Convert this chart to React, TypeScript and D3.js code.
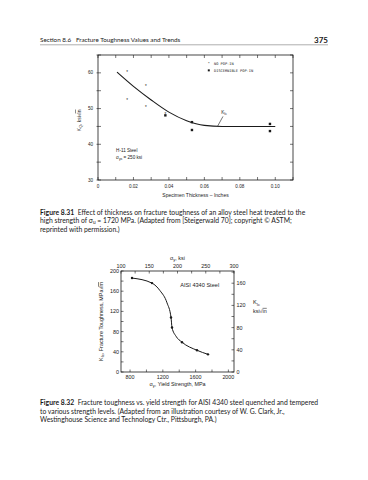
import React from "react";
import * as d3 from "d3";

// ---------- Figure 8.31 data ----------
const thickTickLabels = [0, 0.02, 0.04, 0.06, 0.08, 0.1];
const thickMinorTicks = [0, 0.01, 0.02, 0.03, 0.04, 0.05, 0.06, 0.07, 0.08, 0.09, 0.1, 0.11];
const kqTickLabels = [30, 40, 50, 60];
const kqMinorTicks = [30, 35, 40, 45, 50, 55, 60, 65];
const noPopThick = [0.0164, 0.027, 0.0164, 0.027, 0.038];
const noPopKq = [60.0, 56.3, 52.4, 50.4, 48.4];
const popThick = [0.038, 0.053, 0.053, 0.097, 0.097];
const popKq = [48.1, 46.2, 44.0, 45.7, 43.7];
const fitThick = [0.0107, 0.02, 0.03, 0.04, 0.05, 0.06, 0.07, 0.1];
const fitKq = [60.2, 56.2, 52.4, 49.0, 46.6, 45.3, 45.0, 45.0];

// ---------- Figure 8.32 data ----------
const yieldTickLabels = [800, 1200, 1600, 2000];
const yieldMinorTicks = [800, 1000, 1200, 1400, 1600, 1800, 2000];
const ksiTickLabels = [100, 150, 200, 250, 300];
const ksiMinorTicks = [100, 125, 150, 175, 200, 225, 250, 275, 300];
const kicTickLabels = [0, 40, 80, 120, 160, 200];
const kicMinorTicks = [0, 20, 40, 60, 80, 100, 120, 140, 160, 180, 200];
const kicKsiTickLabels = [0, 40, 80, 120, 160];
const kicKsiMinorTicks = [0, 20, 40, 60, 80, 100, 120, 140, 160, 180];
const steelYield = [824, 1068, 1300, 1312, 1434, 1617, 1751];
const steelKic = [186, 176, 108, 88, 59, 43, 35];
const curveYield = [824, 1068, 1166, 1251, 1300, 1312, 1360, 1434, 1617, 1751];
const curveKic = [186, 176, 161, 137, 108, 88, 71, 59, 43, 35];

const MPA_PER_KSI = 6.895;
const KSI_IN_TO_MPA_M = 1.0988;

const INK = "#1a1a1a";
const BODY_FONT = "Lato, 'Open Sans', sans-serif";
const CHART_FONT = "'Liberation Sans', Arial, sans-serif";

function TopChart() {
  const x = d3.scaleLinear().domain([0, 0.11]).range([98, 293]);
  const y = d3.scaleLinear().domain([30, 65]).range([180, 55]);
  const [x0, x1] = x.range();
  const [yb, yt] = y.range();
  const line = d3
    .line<number>()
    .x((_, i) => x(fitThick[i]))
    .y((d) => y(d))
    .curve(d3.curveMonotoneX);
  const fs = 4.6;
  const mono = "'DejaVu Sans Mono', monospace";
  return (
    <g fontFamily={CHART_FONT} fill={INK}>
      <rect x={x0} y={yt} width={x1 - x0} height={yb - yt} fill="none" stroke={INK} strokeWidth={0.8} />
      {thickMinorTicks.map((t) => (
        <g key={"xt" + t}>
          <line x1={x(t)} x2={x(t)} y1={yb} y2={yb - 3} stroke={INK} strokeWidth={0.6} />
          <line x1={x(t)} x2={x(t)} y1={yt} y2={yt + 3} stroke={INK} strokeWidth={0.6} />
        </g>
      ))}
      {thickTickLabels.map((t) => (
        <text key={"xl" + t} x={x(t)} y={yb + 8} fontSize={fs} textAnchor="middle">
          {t === 0 ? "0" : t.toFixed(2)}
        </text>
      ))}
      {kqMinorTicks.map((t) => (
        <g key={"yt" + t}>
          <line x1={x0 - 1.5} x2={x0 + 3} y1={y(t)} y2={y(t)} stroke={INK} strokeWidth={0.6} />
          <line x1={x1} x2={x1 - 3} y1={y(t)} y2={y(t)} stroke={INK} strokeWidth={0.6} />
        </g>
      ))}
      {kqTickLabels.map((t) => (
        <text key={"yl" + t} x={x0 - 5} y={y(t) + 1.6} fontSize={fs} textAnchor="end">
          {t}
        </text>
      ))}
      <text x={(x0 + x1) / 2} y={yb + 16.5} fontSize={5} textAnchor="middle">
        Specimen Thickness – Inches
      </text>
      <text transform={`translate(${x0 - 17.5},${y(46.7)}) rotate(-90)`} fontSize={5} textAnchor="middle">
        K<tspan fontSize={3.6} dy={1.2}>Q</tspan>
        <tspan dy={-1.2}>, ksi</tspan>
        <tspan>{"\u221a"}</tspan>
        <tspan textDecoration="overline">in</tspan>
      </text>
      <path d={line(fitKq) || ""} fill="none" stroke={INK} strokeWidth={1.1} />
      {noPopThick.map((t, i) => (
        <text key={"np" + i} x={x(t)} y={y(noPopKq[i]) + 1.6} fontSize={4.5} textAnchor="middle">
          *
        </text>
      ))}
      {popThick.map((t, i) => (
        <rect key={"p" + i} x={x(t) - 1.2} y={y(popKq[i]) - 1.2} width={2.4} height={2.4} fill={INK} />
      ))}
      {/* legend */}
      <text x={x(0.0625)} y={y(62.7) + 1.4} fontSize={4.2} textAnchor="middle">*</text>
      <text x={x(0.0655)} y={y(62.7) + 1.3} fontSize={3.6} fontFamily={mono}>NO POP-IN</text>
      <rect x={x(0.0625) - 1} y={y(60.7) - 1} width={2} height={2} fill={INK} />
      <text x={x(0.0655)} y={y(60.7) + 1.3} fontSize={3.6} fontFamily={mono}>DISCERNIBLE POP-IN</text>
      {/* K_Ic annotation */}
      <text x={x(0.0695)} y={y(48.6)} fontSize={4.6}>
        K<tspan fontSize={3.4} dy={1}>Ic</tspan>
      </text>
      <line x1={x(0.0705)} y1={y(47.8)} x2={x(0.0675)} y2={y(45.1)} stroke={INK} strokeWidth={0.6} />
      <text x={x(0.0102)} y={y(37.9)} fontSize={4.6}>H-11 Steel</text>
      <text x={x(0.0102)} y={y(35.8)} fontSize={4.6}>
        {"\u03c3"}<tspan fontSize={3.4} dy={1}>ys</tspan>
        <tspan dy={-1}> = 250 ksi</tspan>
      </text>
    </g>
  );
}

function BottomChart() {
  const x = d3.scaleLinear().domain([100 * MPA_PER_KSI, 300 * MPA_PER_KSI]).range([121, 234]);
  const y = d3.scaleLinear().domain([0, 200]).range([372, 271]);
  const [x0, x1] = x.range();
  const [yb, yt] = y.range();
  const line = d3
    .line<number>()
    .x((_, i) => x(curveYield[i]))
    .y((d) => y(d))
    .curve(d3.curveMonotoneX);
  const fs = 5.4;
  return (
    <g fontFamily={CHART_FONT} fill={INK}>
      <rect x={x0} y={yt} width={x1 - x0} height={yb - yt} fill="none" stroke={INK} strokeWidth={0.8} />
      {yieldMinorTicks.map((t) => (
        <line key={"bt" + t} x1={x(t)} x2={x(t)} y1={yb} y2={yb - 2.5} stroke={INK} strokeWidth={0.6} />
      ))}
      {yieldTickLabels.map((t) => (
        <text key={"bl" + t} x={x(t)} y={yb + 7} fontSize={fs} textAnchor="middle">
          {t}
        </text>
      ))}
      {ksiMinorTicks.map((t) => (
        <line key={"tt" + t} x1={x(t * MPA_PER_KSI)} x2={x(t * MPA_PER_KSI)} y1={yt} y2={yt + 2.5} stroke={INK} strokeWidth={0.6} />
      ))}
      {ksiTickLabels.map((t) => (
        <text key={"tl" + t} x={x(t * MPA_PER_KSI)} y={yt - 3} fontSize={fs} textAnchor="middle">
          {t}
        </text>
      ))}
      <text x={(x0 + x1) / 2} y={yt - 11} fontSize={5.4} textAnchor="middle">
        {"\u03c3"}<tspan fontSize={4} dy={1.2}>y</tspan>
        <tspan dy={-1.2}>, ksi</tspan>
      </text>
      {kicMinorTicks.map((t) => (
        <line key={"lt" + t} x1={x0} x2={x0 + 2.5} y1={y(t)} y2={y(t)} stroke={INK} strokeWidth={0.6} />
      ))}
      {kicTickLabels.map((t) => (
        <text key={"ll" + t} x={x0 - 2} y={y(t) + 1.9} fontSize={fs} textAnchor="end">
          {t}
        </text>
      ))}
      {kicKsiMinorTicks.map((t) => (
        <line key={"rt" + t} x1={x1} x2={x1 - 2.5} y1={y(t * KSI_IN_TO_MPA_M)} y2={y(t * KSI_IN_TO_MPA_M)} stroke={INK} strokeWidth={0.6} />
      ))}
      {kicKsiTickLabels.map((t) => (
        <text key={"rl" + t} x={x1 + 2.5} y={y(t * KSI_IN_TO_MPA_M) + 1.9} fontSize={fs}>
          {t}
        </text>
      ))}
      <text x={x1 + 19} y={y(134)} fontSize={5.6}>
        K<tspan fontSize={4.2} dy={1.3}>Ic</tspan>
      </text>
      <text x={x1 + 19} y={y(117)} fontSize={5.4}>
        ksi{"\u221a"}<tspan textDecoration="overline">in</tspan>
      </text>
      <text x={(x0 + x1) / 2} y={yb + 14} fontSize={5.4} textAnchor="middle">
        {"\u03c3"}<tspan fontSize={4} dy={1.2}>y</tspan>
        <tspan dy={-1.2}>, Yield Strength, MPa</tspan>
      </text>
      <text transform={`translate(${x0 - 18},${(yb + yt) / 2}) rotate(-90)`} fontSize={5.4} textAnchor="middle">
        K<tspan fontSize={4} dy={1.2}>Ic</tspan>
        <tspan dy={-1.2}>, Fracture Toughness, MPa</tspan>
        <tspan>{"\u221a"}</tspan>
        <tspan textDecoration="overline">m</tspan>
      </text>
      <text x={x(1650)} y={y(168)} fontSize={5.6} textAnchor="middle">AISI 4340 Steel</text>
      <path d={line(curveKic) || ""} fill="none" stroke={INK} strokeWidth={1} />
      {steelYield.map((v, i) => (
        <circle key={"s" + i} cx={x(v)} cy={y(steelKic[i])} r={1.2} fill={INK} />
      ))}
    </g>
  );
}

const LEAD = 8.5;

function Caption1({ y0 }: { y0: number }) {
  return (
    <g fontFamily={BODY_FONT} fontSize={6.8} fill={INK}>
      <text x={40} y={y0} xmlSpace="preserve">
        <tspan fontWeight="bold">Figure 8.31</tspan>
        {"  Effect of thickness on fracture toughness of an alloy steel heat treated to the"}
      </text>
      <text x={40} y={y0 + LEAD}>
        {"high strength of \u03c3"}
        <tspan fontSize={4.8} dy={1.2}>u</tspan>
        <tspan dy={-1.2}>{" = 1720 MPa. (Adapted from [Steigerwald 70]; copyright \u00a9 ASTM;"}</tspan>
      </text>
      <text x={40} y={y0 + 2 * LEAD}>reprinted with permission.)</text>
    </g>
  );
}

function Caption2({ y0 }: { y0: number }) {
  return (
    <g fontFamily={BODY_FONT} fontSize={6.8} fill={INK}>
      <text x={40} y={y0} xmlSpace="preserve">
        <tspan fontWeight="bold">Figure 8.32</tspan>
        {"  Fracture toughness vs. yield strength for AISI 4340 steel quenched and tempered"}
      </text>
      <text x={40} y={y0 + LEAD}>
        to various strength levels. (Adapted from an illustration courtesy of W. G. Clark, Jr.,
      </text>
      <text x={40} y={y0 + 2 * LEAD}>Westinghouse Science and Technology Ctr., Pittsburgh, PA.)</text>
    </g>
  );
}

export default function App() {
  return (
    <svg
      width={368}
      height={480}
      viewBox="0 0 368 480"
      style={{ position: "absolute", left: 0, top: 0, background: "#fff" }}
    >
      <rect width={368} height={480} fill="#fff" />
      <text x={40} y={42} fontFamily={BODY_FONT} fontSize={6.3} fill={INK} xmlSpace="preserve">
        Section 8.6   Fracture Toughness Values and Trends
      </text>
      <text x={328} y={42.5} fontFamily={BODY_FONT} fontSize={8} fontWeight="bold" fill={INK} textAnchor="end">
        375
      </text>
      <line x1={40} x2={328} y1={44.8} y2={44.8} stroke="#777" strokeWidth={0.6} />
      <TopChart />
      <Caption1 y0={214.5} />
      <BottomChart />
      <Caption2 y0={405} />
    </svg>
  );
}
